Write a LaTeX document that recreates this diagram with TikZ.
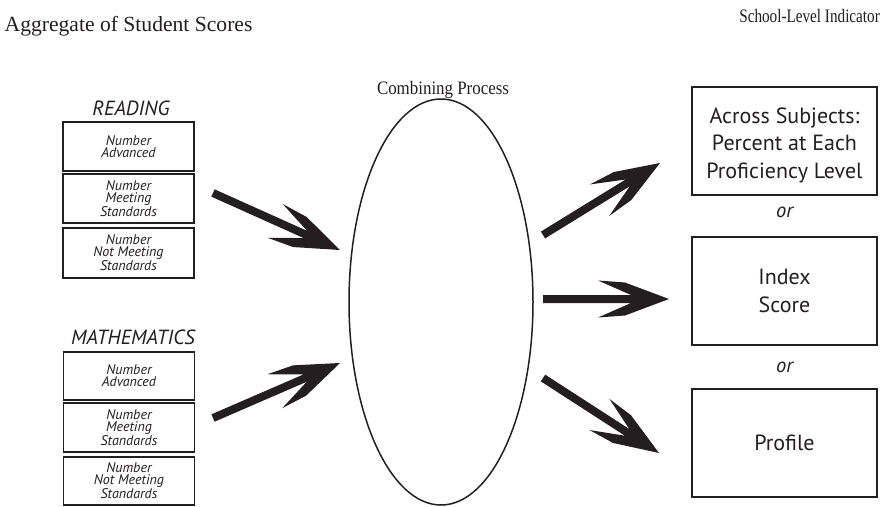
\documentclass[tikz,border=0pt]{standalone}
\usepackage{fontspec}
\setmainfont{Liberation Serif}
\newfontfamily\boxfont{PT Sans}
\usetikzlibrary{shapes.geometric,calc}
\definecolor{ink}{HTML}{231F20}
\newcommand\fatarrow[2]{%
  \path let \p1=(#1), \p2=(#2) in \pgfextra{%
    \pgfmathsetmacro\myang{atan2(\y2-\y1,\x2-\x1)}%
    \pgfmathsetmacro\mylen{veclen(\x2-\x1,\y2-\y1)}%
    \global\let\fatang\myang \global\let\fatlen\mylen};
  \fill[ink, shift={(#2)}, rotate=\fatang]
    (0pt,0pt) -- (-44pt,16.5pt) -- (-71pt,18.5pt) -- (-38pt,4pt) -- (-\fatlen pt,4pt)
    -- (-\fatlen pt,-4pt) -- (-38pt,-4pt) -- (-71pt,-18.5pt) -- (-44pt,-16.5pt) -- cycle;
}
\begin{document}
\begin{tikzpicture}[x=1pt,y=-1pt,
  titleA/.style={inner sep=0pt, text=ink, font=\fontsize{21.6}{24}\selectfont},
  titleB/.style={inner sep=0pt, text=ink, xscale=0.8, transform shape, font=\fontsize{19}{22}\selectfont},
  titleC/.style={inner sep=0pt, text=ink, xscale=0.89, transform shape, font=\fontsize{19}{22}\selectfont},
  lbox/.style={draw=ink, line width=1.8pt, inner sep=0pt, align=center, text=ink,
    minimum width=131pt, font=\boxfont\itshape\fontsize{14}{12}\selectfont},
  rbox/.style={draw=ink, line width=2.4pt, inner sep=0pt, align=center, text=ink,
    minimum width=185pt, minimum height=108pt, font=\boxfont\fontsize{22}{27.5}\selectfont},
  subj/.style={inner sep=0pt, text=ink, font=\boxfont\itshape\fontsize{20.5}{24}\selectfont},
]
\fill[white] (0,0) rectangle (886,506);
\useasboundingbox (0,0) rectangle (886,506);

% titles
\node[titleA, anchor=base west] (agg) at (4.5,31) {Aggregate of Student Scores};
\node[titleB, anchor=base east] (sli) at (880,22) {School-Level Indicator};
\node[titleC, anchor=base] (comb) at (443,94) {Combining Process};

% left groups
\node[subj] (read) at (131,108) {READING};
\node[lbox, minimum height=49pt] (r1) at (128.5,146.5) {Number\\Advanced};
\node[lbox, minimum height=49pt] (r2) at (128.5,198.5) {Number\\Meeting\\Standards};
\node[lbox, minimum height=50pt] (r3) at (128.5,253) {Number\\Not Meeting\\Standards};

\node[subj] (math) at (133,337) {MATHEMATICS};
\node[lbox, minimum height=48pt] (m1) at (129,376) {Number\\Advanced};
\node[lbox, minimum height=49pt] (m2) at (129,427.5) {Number\\Meeting\\Standards};
\node[lbox, minimum height=48pt] (m3) at (129,481) {Number\\Not Meeting\\Standards};

% process
\node[draw=ink, ellipse, line width=1.5pt, minimum width=184pt, minimum height=406pt, inner sep=0pt] (proc) at (441,302) {};

% right boxes
\node[rbox] (b1) at (784.5,141) {};
\node[rbox, draw=none, minimum height=0pt] (b1t) at (784.5,145) {Across Subjects:\\Percent at Each\\Proficiency Level};
\node[subj] (or1) at (784.5,212) {or};
\node[rbox] (b2) at (784.5,291) {Index\\Score};
\node[subj] (or2) at (784.5,367) {or};
\node[rbox] (b3) at (784.5,443) {Profile};

% arrows
\coordinate (a1s) at (213,193); \coordinate (a1t) at (340,250);
\coordinate (a2s) at (213,418); \coordinate (a2t) at (340,363);
\coordinate (a3s) at (543,235); \coordinate (a3t) at (660,163);
\coordinate (a4s) at (543,299); \coordinate (a4t) at (669,299);
\coordinate (a5s) at (543,378); \coordinate (a5t) at (659,453);
\fatarrow{a1s}{a1t}
\fatarrow{a2s}{a2t}
\fatarrow{a3s}{a3t}
\fatarrow{a4s}{a4t}
\fatarrow{a5s}{a5t}
\end{tikzpicture}
\end{document}
